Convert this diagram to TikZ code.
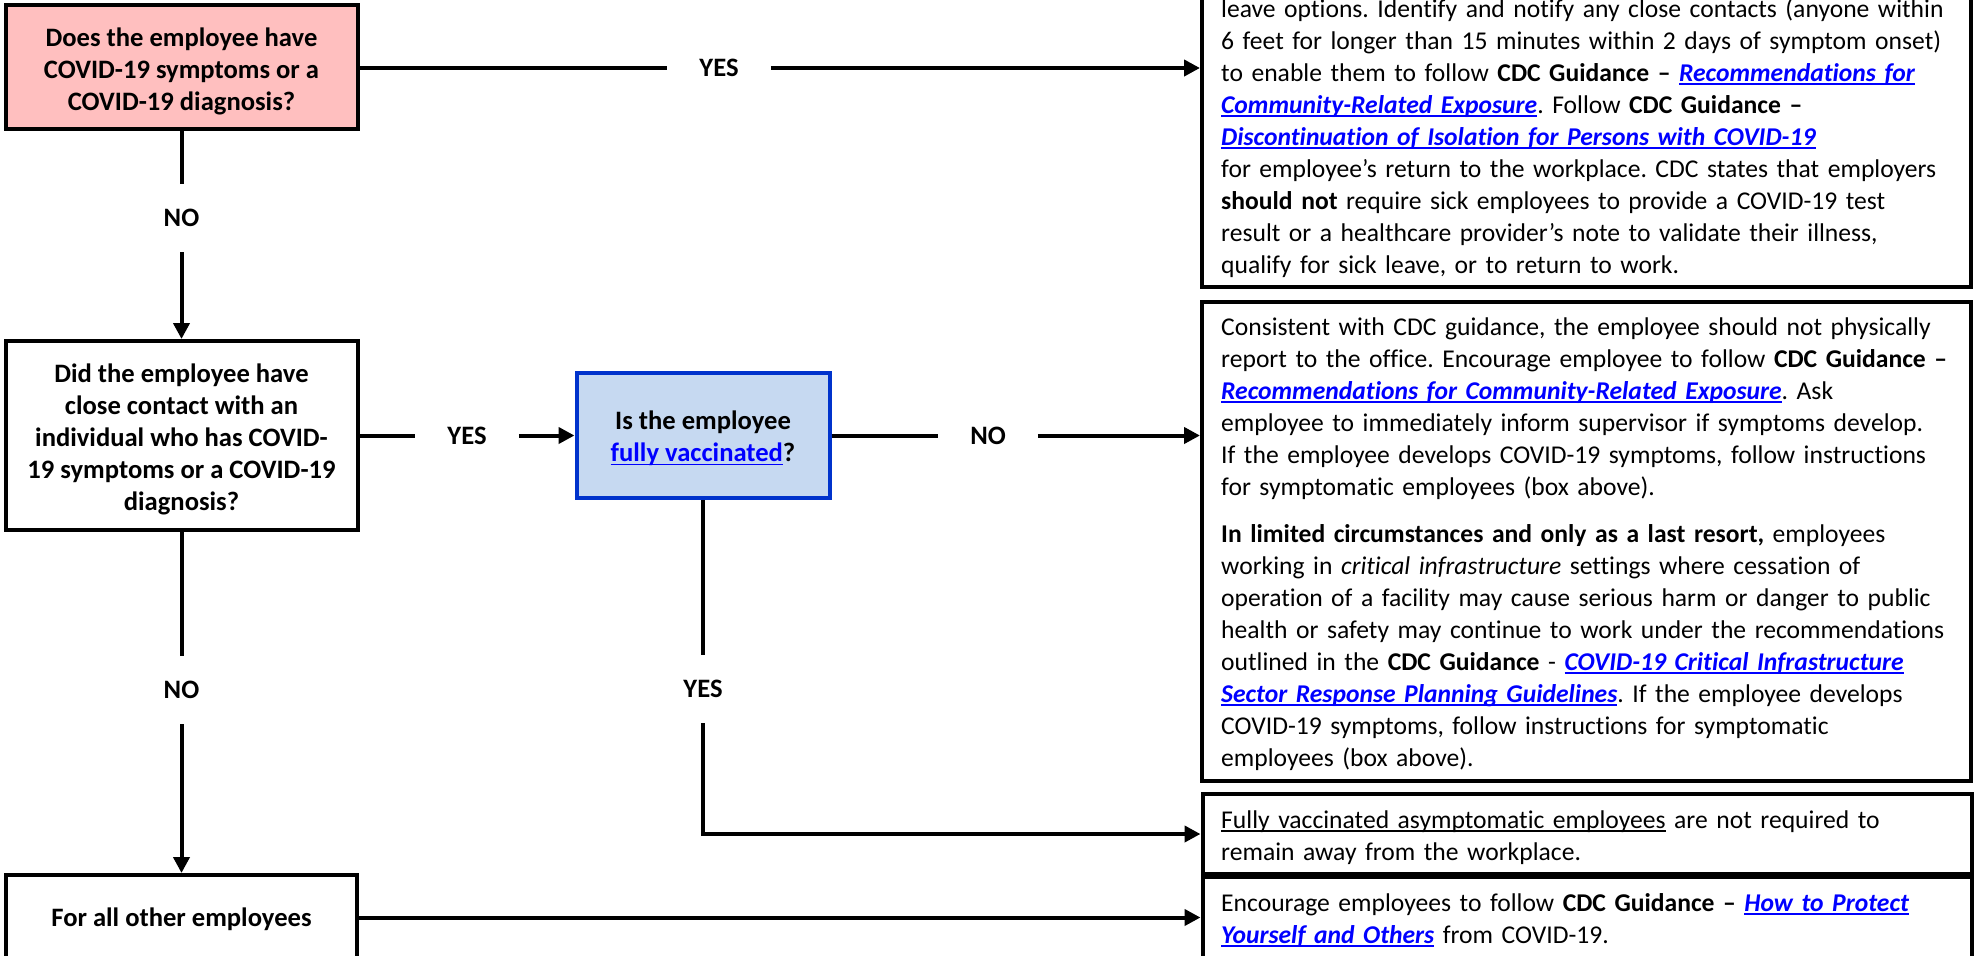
\documentclass[tikz,border=0pt]{standalone}
\usepackage{fontspec}
\setmainfont{Carlito}[Ligatures={TeX,NoCommon}]
\usetikzlibrary{arrows.meta}
\definecolor{pinkfill}{RGB}{255,191,191}
\definecolor{bluefill}{RGB}{198,217,241}
\definecolor{blueedge}{RGB}{0,51,204}
\definecolor{linkblue}{RGB}{0,0,255}
\newsavebox{\ulbox}
\newcommand{\myul}[1]{\leavevmode\sbox{\ulbox}{#1}\rlap{\rule[-3.5pt]{\wd\ulbox}{1.6pt}}\usebox{\ulbox}}
\newcommand{\fs}{\fontsize{26.6pt}{32pt}\selectfont}
\newcommand{\fr}{\fontsize{25.6pt}{32pt}\selectfont\frenchspacing}
\newcommand{\lnk}[1]{{\color{linkblue}\bfseries\itshape\myul{#1}}}
\newcommand{\lnkplain}[1]{{\color{linkblue}\myul{#1}}}
\begin{document}
\begin{tikzpicture}[x=1pt,y=-1pt,
  qbox/.style={draw, line width=4pt, align=center, font=\fs\bfseries, inner sep=0pt},
  rbox/.style={draw, line width=4pt, minimum width=769pt, inner sep=0pt},
  rtext/.style={anchor=base west, text width=770pt, align=left, inner sep=0pt, font=\fr},
  lbl/.style={font=\fs\bfseries, inner xsep=32pt, inner ysep=25pt},
  conn/.style={line width=4pt},
  arr/.style={line width=4pt, -{Triangle[length=16pt,width=16pt]}}]
\useasboundingbox (0,0) rectangle (1979,956);
\clip (0,0) rectangle (1979,956);
\fill[white] (0,0) rectangle (1979,956);

% question boxes
\node[qbox, fill=pinkfill, minimum width=352pt, minimum height=124pt] (q1) at (181.5,67)
  {\rule{0pt}{28pt}Does the employee have\\COVID-19 symptoms or a\\COVID-19 diagnosis?};
\node[qbox, minimum width=352pt, minimum height=189pt] (q2) at (181.5,435.5)
  {\rule{0pt}{27pt}Did the employee have\\close contact with an\\individual who has COVID-\\19 symptoms or a COVID-19\\diagnosis?};
\node[qbox, draw=blueedge, fill=bluefill, minimum width=253pt, minimum height=125pt] (q3) at (703,435.5)
  {\rule{0pt}{25pt}Is the employee\\\lnkplain{fully vaccinated}?};
\node[qbox, minimum width=351pt, minimum height=85pt] (q4) at (181.5,917.5)
  {\rule{0pt}{23pt}For all other employees};

% answer boxes
\node[rbox, minimum height=407pt] (a) at (1586.5,83.5) {};
\node[rbox, minimum height=479pt] (b) at (1586.5,541.5) {};
\node[rbox, minimum height=80pt] (fv) at (1587,834) {};
\node[rbox, minimum height=123pt] (bb) at (1587,938.5) {};

\node[rtext] (ta) at (1221,17) {leave options. Identify and notify any close contacts (anyone within\\
6 feet for longer than 15 minutes within 2 days of symptom onset)\\
to enable them to follow \textbf{CDC Guidance –} \lnk{Recommendations for}\\
\lnk{Community-Related Exposure}. Follow \textbf{CDC Guidance –}\\
\lnk{Discontinuation of Isolation for Persons with COVID-19}\\
for employee’s return to the workplace. CDC states that employers\\
\textbf{should not} require sick employees to provide a COVID-19 test\\
result or a healthcare provider’s note to validate their illness,\\
qualify for sick leave, or to return to work.};

\node[rtext] (tb) at (1221,335) {Consistent with CDC guidance, the employee should not physically\\
report to the office. Encourage employee to follow \textbf{CDC Guidance –}\\
\lnk{Recommendations for Community-Related Exposure}. Ask\\
employee to immediately inform supervisor if symptoms develop.\\
If the employee develops COVID-19 symptoms, follow instructions\\
for symptomatic employees (box above).\\[15pt]
\textbf{In limited circumstances and only as a last resort,} employees\\
working in \textit{critical infrastructure} settings where cessation of\\
operation of a facility may cause serious harm or danger to public\\
health or safety may continue to work under the recommendations\\
outlined in the \textbf{CDC Guidance} - \lnk{COVID-19 Critical Infrastructure}\\
\lnk{Sector Response Planning Guidelines}. If the employee develops\\
COVID-19 symptoms, follow instructions for symptomatic\\
employees (box above).};

\node[rtext] (tfv) at (1221,828) {\myul{Fully vaccinated asymptomatic employees} are not required to\\
remain away from the workplace.};

\node[rtext] (tbb) at (1221,911) {Encourage employees to follow \textbf{CDC Guidance –} \lnk{How to Protect}\\
\lnk{Yourself and Others} from COVID-19.};

% labels
\node[lbl] (y1) at (719,68) {YES};
\node[lbl] (n1) at (181.5,218) {NO};
\node[lbl] (y2) at (467,435.5) {YES};
\node[lbl] (n2) at (181.5,690) {NO};
\node[lbl] (n3) at (988,435.5) {NO};
\node[lbl] (y3) at (703,689) {YES};

% connectors
\draw[conn] (q1.east |- y1.west) -- (y1.west);
\draw[arr] (y1.east) -- (y1.east -| a.west);
\draw[conn] (q1.south) -- (n1.north);
\draw[arr] (n1.south) -- (q2.north);
\draw[conn] (q2.east) -- (y2.west);
\draw[arr] (y2.east) -- (q3.west);
\draw[conn] (q3.east) -- (n3.west);
\draw[arr] (n3.east) -- (n3.east -| b.west);
\draw[conn] (q3.south) -- (y3.north);
\draw[arr] (y3.south) |- (fv.west);
\draw[conn] (q2.south) -- (n2.north);
\draw[arr] (n2.south) -- (q4.north);
\draw[arr] (q4.east) -- (q4.east -| bb.west);
\end{tikzpicture}
\end{document}
